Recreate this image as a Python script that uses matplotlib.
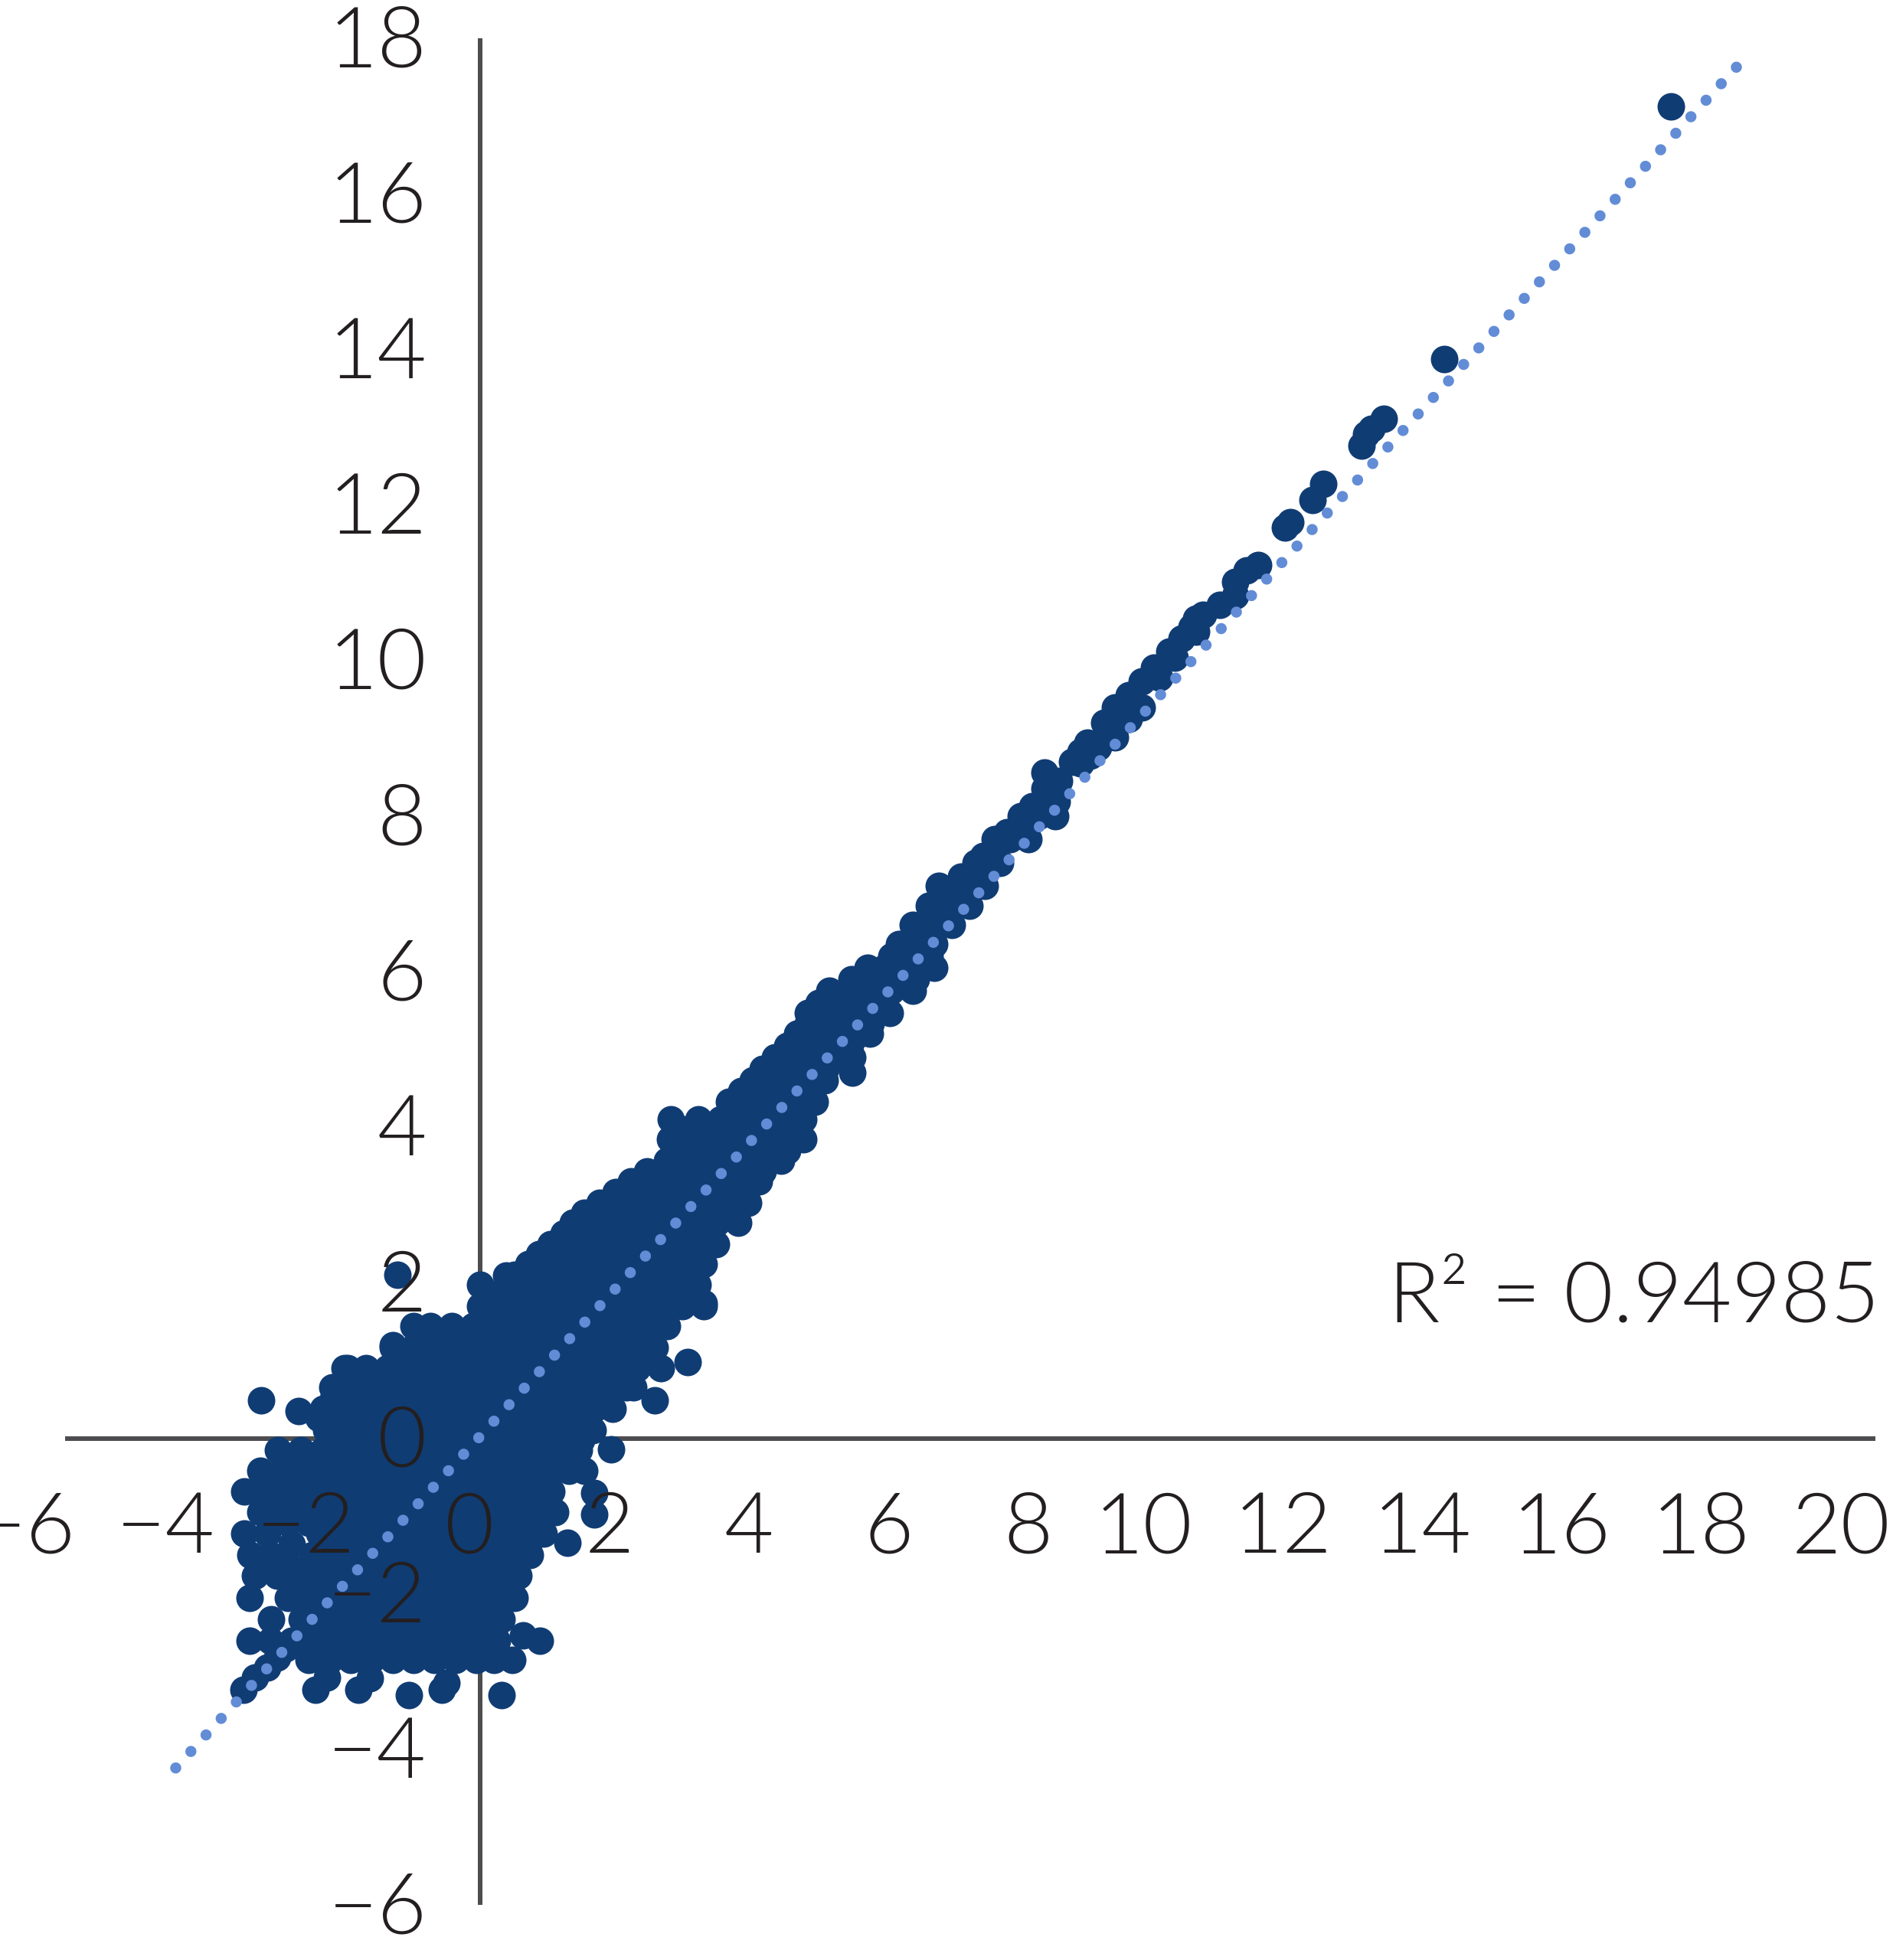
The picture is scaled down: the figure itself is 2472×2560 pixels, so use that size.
import matplotlib
matplotlib.use("Agg")
import matplotlib.pyplot as plt
from matplotlib import font_manager as fm
from matplotlib.transforms import ScaledTranslation

W, H, DPI = 2472, 2560, 100

# values
x_ticks = [-6, -4, -2, 0, 2, 4, 6, 8, 10, 12, 14, 16, 18, 20]
y_ticks = [-6, -4, -2, 0, 2, 4, 6, 8, 10, 12, 14, 16, 18]
trend_x = [-4.36, 18.02]
trend_y = [-4.24, 17.64]

# dense part of the cloud, one list of x per row
cloud_y = [-2.85, -2.6, -2.33, -2.05, -1.77, -1.5, -1.23, -0.95, -0.68, -0.42, -0.15, 0.1, 0.38, 0.65, 0.9,
           1.17, 1.44, 1.7, 1.97, 2.24, 2.5, 2.77, 3.03, 3.3, 3.57, 3.84, 4.1]
cloud_x = [
    [-2.45, -2.15, -1.85, -1.55, -1.25, -0.95, -0.65, -0.35, -0.05, 0.2, 0.46],
    [-3.3, -3.0, -2.7, -2.4, -2.1, -1.8, -1.5, -1.2, -0.9, -0.6, -0.3, 0.0, 0.25],
    [-2.99, -2.55, -2.25, -1.95, -1.65, -1.35, -1.05, -0.75, -0.45, -0.15, 0.15, 0.31],
    [-3.3, -2.75, -2.45, -2.15, -1.85, -1.55, -1.25, -0.95, -0.65, -0.35, -0.05, 0.25, 0.5],
    [-3.22, -2.9, -2.6, -2.3, -2.0, -1.7, -1.4, -1.1, -0.8, -0.5, -0.2, 0.1, 0.4, 0.55],
    [-3.29, -3.0, -2.4, -2.1, -1.8, -1.5, -1.2, -0.9, -0.6, -0.3, 0.0, 0.3, 0.6, 0.72],
    [-3.38, -3.05, -2.3, -2.0, -1.7, -1.4, -1.1, -0.8, -0.5, -0.2, 0.1, 0.4, 0.7, 0.91],
    [-3.15, -2.85, -2.55, -2.25, -1.95, -1.65, -1.35, -1.05, -0.75, -0.45, -0.15, 0.15, 0.45, 0.75, 1.08],
    [-3.38, -3.1, -2.8, -2.5, -2.2, -1.9, -1.6, -1.3, -1.0, -0.7, -0.4, -0.1, 0.2, 0.5, 0.8, 1.02],
    [-3.15, -2.85, -2.55, -2.25, -1.95, -1.65, -1.35, -1.05, -0.75, -0.45, -0.15, 0.15, 0.45, 0.75, 1.05, 1.28, 1.5],
    [-2.89, -2.56, -2.25, -1.95, -1.65, -1.35, -1.05, -0.75, -0.45, -0.15, 0.15, 0.45, 0.75, 1.05, 1.42],
    [-2.2, -1.9, -1.6, -1.3, -1.0, -0.7, -0.4, -0.1, 0.2, 0.5, 0.8, 1.1, 1.4, 1.62],
    [-2.25, -1.95, -1.65, -1.35, -1.05, -0.75, -0.45, -0.15, 0.15, 0.45, 0.75, 1.05, 1.35, 1.64, 1.9],
    [-2.12, -1.8, -1.5, -1.2, -0.9, -0.6, -0.3, 0.0, 0.3, 0.6, 0.9, 1.2, 1.5, 1.8, 2.1, 2.2],
    [-1.94, -1.63, -1.33, -1.05, -0.75, -0.45, -0.15, 0.15, 0.45, 0.75, 1.05, 1.35, 1.65, 1.95, 2.25, 2.59],
    [-1.25, -0.95, -0.65, -0.35, -0.05, 0.25, 0.55, 0.85, 1.15, 1.45, 1.75, 2.05, 2.35, 2.51],
    [-0.95, -0.71, -0.4, -0.1, 0.2, 0.5, 0.8, 1.1, 1.4, 1.7, 2.0, 2.3, 2.68],
    [0.0, 0.3, 0.6, 0.9, 1.2, 1.5, 1.8, 2.1, 2.4, 2.7, 2.9, 3.21],
    [0.0, 0.38, 0.6, 0.9, 1.2, 1.5, 1.8, 2.1, 2.4, 2.7, 3.0, 3.12],
    [0.7, 1.0, 1.3, 1.6, 1.9, 2.2, 2.5, 2.8, 3.0, 3.21],
    [1.01, 1.3, 1.6, 1.9, 2.2, 2.5, 2.8, 3.1, 3.38],
    [1.33, 1.6, 1.9, 2.2, 2.5, 2.8, 3.1, 3.4, 3.7],
    [1.72, 2.0, 2.3, 2.6, 2.9, 3.2, 3.5, 3.85],
    [2.17, 2.45, 2.75, 3.05, 3.35, 3.65, 4.0],
    [2.68, 2.95, 3.25, 3.55, 3.85, 4.32],
    [2.73, 3.0, 3.3, 3.6, 3.9, 4.2, 4.63],
    [2.74, 3.13, 3.45, 3.8, 4.1, 4.4, 4.63],
]

# more points between those rows
fill_y = [-2.72, -2.47, -2.19, -1.91, -1.63, -1.36, -1.09, -0.81, -0.55, -0.28, -0.02, 0.24, 0.51, 0.77, 1.03,
          1.3, 1.57, 1.83, 2.1, 2.37, 2.63, 2.9, 3.16, 3.43, 3.7, 3.97,
          4.46, 4.75, 5.05, 5.33, 5.6, 5.9, 6.2]
fill_x = [
    [-2.3, -2.0, -1.7, -1.4, -1.1, -0.8, -0.5, -0.2, 0.1],
    [-2.4, -2.1, -1.8, -1.5, -1.2, -0.9, -0.6, -0.3, 0.0, 0.2],
    [-2.4, -2.1, -1.8, -1.5, -1.2, -0.9, -0.6, -0.3, 0.0, 0.25],
    [-2.6, -2.3, -2.0, -1.7, -1.4, -1.1, -0.8, -0.5, -0.2, 0.1, 0.35],
    [-2.75, -2.25, -1.95, -1.65, -1.35, -1.05, -0.75, -0.45, -0.15, 0.15, 0.45],
    [-2.7, -2.25, -1.95, -1.65, -1.35, -1.05, -0.75, -0.45, -0.15, 0.15, 0.45, 0.7],
    [-2.75, -2.45, -2.15, -1.85, -1.55, -1.25, -0.95, -0.65, -0.35, -0.05, 0.25, 0.55, 0.8],
    [-3.0, -2.7, -2.4, -2.1, -1.8, -1.5, -1.2, -0.9, -0.6, -0.3, 0.0, 0.3, 0.6, 0.9],
    [-2.95, -2.65, -2.35, -2.05, -1.75, -1.45, -1.15, -0.85, -0.55, -0.25, 0.05, 0.35, 0.65, 0.95],
    [-2.7, -2.4, -2.1, -1.8, -1.5, -1.2, -0.9, -0.6, -0.3, 0.0, 0.3, 0.6, 0.9, 1.2],
    [-2.05, -1.75, -1.45, -1.15, -0.85, -0.55, -0.25, 0.05, 0.35, 0.65, 0.95, 1.25, 1.45],
    [-2.05, -1.75, -1.45, -1.15, -0.85, -0.55, -0.25, 0.05, 0.35, 0.65, 0.95, 1.25, 1.55],
    [-2.1, -1.8, -1.5, -1.2, -0.9, -0.6, -0.3, 0.0, 0.3, 0.6, 0.9, 1.2, 1.5, 1.8],
    [-1.65, -1.35, -1.05, -0.75, -0.45, -0.15, 0.15, 0.45, 0.75, 1.05, 1.35, 1.65, 1.95, 2.1],
    [-1.1, -0.8, -0.5, -0.2, 0.1, 0.4, 0.7, 1.0, 1.3, 1.6, 1.9, 2.2, 2.4],
    [-0.8, -0.5, -0.2, 0.1, 0.4, 0.7, 1.0, 1.3, 1.6, 1.9, 2.2, 2.4],
    [0.15, 0.45, 0.75, 1.05, 1.35, 1.65, 1.95, 2.25, 2.55],
    [0.15, 0.45, 0.75, 1.05, 1.35, 1.65, 1.95, 2.25, 2.55, 2.85, 3.0],
    [0.5, 0.8, 1.1, 1.4, 1.7, 2.0, 2.3, 2.6, 2.9, 3.0],
    [0.85, 1.15, 1.45, 1.75, 2.05, 2.35, 2.65, 2.95, 3.15],
    [1.2, 1.5, 1.8, 2.1, 2.4, 2.7, 3.0, 3.3],
    [1.5, 1.8, 2.1, 2.4, 2.7, 3.0, 3.3, 3.6],
    [1.95, 2.25, 2.55, 2.85, 3.15, 3.45, 3.75],
    [2.4, 2.7, 3.0, 3.3, 3.6, 3.9, 4.05],
    [2.85, 3.15, 3.45, 3.75, 4.05, 4.4],
    [2.9, 3.2, 3.5, 3.8, 4.1, 4.4],
    [3.75, 4.05, 4.35, 4.65],
    [4.05, 4.35, 4.65, 4.95],
    [4.4, 4.7, 5.0, 5.3],
    [4.7, 5.0, 5.3, 5.6],
    [4.85, 5.15, 5.45, 5.75],
    [5.4, 5.7, 6.0, 6.25],
    [5.9, 6.2, 6.45],
]

# narrowing band above the cloud
band_y = [4.33, 4.6, 4.9, 5.2, 5.47, 5.75, 6.05, 6.35, 6.6, 6.85, 7.1, 7.4, 7.7, 8.0]
band_x = [
    [3.57, 3.9, 4.2, 4.55, 4.8],
    [3.91, 4.2, 4.5, 4.75, 4.94],
    [4.23, 4.5, 4.8, 5.1, 5.34],
    [4.55, 4.85, 5.15, 5.45, 5.59],
    [4.7, 5.0, 5.3, 5.6, 5.87],
    [5.01, 5.3, 5.6, 5.9, 6.2],
    [5.56, 5.8, 6.1, 6.35, 6.51],
    [6.01, 6.25, 6.51],
    [6.2, 6.45, 6.76],
    [6.43, 6.7, 7.02],
    [6.58, 6.9, 7.24],
    [7.1, 7.3, 7.46],
    [7.38, 7.6, 7.86],
    [7.75, 8.0, 8.25],
]

# single points and the thin top end
loose_x = [-3.14, -2.6, -1.18, 2.98, 2.51, 1.88, 1.64, 1.64, 1.26, 0.86, 0.62, 0.31, -1.02, -0.54, -0.48,
           -1.74, -1.58, -2.36, -2.19, -3.39, -3.22, -3.05, -2.9, -2.78, -2.31, -1.89, -1.25, 0.38, 3.21, 2.9,
           5.34, 5.33, 6.9, 7.21, 7.55, 8.09, 8.09, 8.27, 7.92, 8.49, 8.61, 8.71, 8.61, 8.86, 8.95, 9.1, 9.1,
           9.49, 9.49, 9.74, 9.66, 9.88, 9.96, 10.06, 10.2, 10.27, 10.27, 10.36, 10.6, 10.83, 10.83, 10.99, 11.15,
           11.54, 11.61, 11.93, 12.09, 12.64, 12.7, 12.78, 12.95, 13.82, 17.07,
           8.3, 8.75, 9.3, 9.3]
loose_y = [0.49, 0.35, 2.1, 0.98, 0.49, -0.14, -0.7, -0.98, -1.34, -2.6, -2.53, -3.3, -3.3, -3.23, -3.15,
           -3.23, -3.09, -3.23, -3.08, -3.23, -3.08, -2.95, -2.82, -2.7, 0.26, 0.9, 1.2, 2.09, 1.74, 1.84,
           4.7, 5.9, 7.22, 7.49, 7.79, 8.56, 8.35, 8.19, 8.13, 8.7, 8.83, 8.94, 8.68, 8.88, 9.2, 9.4, 9.01,
           9.73, 9.4, 9.78, 9.91, 10.11, 10.04, 10.28, 10.43, 10.54, 10.37, 10.59, 10.72, 11.01, 10.83, 11.16, 11.23,
           11.71, 11.78, 12.06, 12.27, 12.76, 12.91, 12.98, 13.11, 13.88, 17.12,
           8.45, 8.78, 9.25, 9.55]

r2_label = "R\u00b2 = 0.94985"

DARK = "#103C74"
DOT = "#628CD6"
AXIS = "#4D4D4F"
INK = "#231F20"

# matplotlib's weight match lands on Lato Hairline, so take the Light file by name
light = [f.fname for f in fm.fontManager.ttflist if f.name == "Lato" and f.fname.endswith("Lato-Light.ttf")]
if light:
    font = fm.FontProperties(fname=light[0], size=80)
else:
    font = fm.FontProperties(family="Lato", size=80)

fig = plt.figure(figsize=(W / DPI, H / DPI), dpi=DPI)
ax = fig.add_axes([80 / W, (H - 2488) / H, (2449 - 80) / W, (2488 - 50) / H])
ax.set_xlim(-6, 20)
ax.set_ylim(-6, 18)
ax.patch.set_visible(False)

all_x, all_y = list(loose_x), list(loose_y)
for row_y, row_x in zip(cloud_y + fill_y + band_y, cloud_x + fill_x + band_x):
    all_x += row_x
    all_y += [row_y] * len(row_x)
ax.scatter(all_x, all_y, s=(36 * 72 / DPI) ** 2, color=DARK, linewidths=0, zorder=1, clip_on=False)

# dash period picked so a dot lands on the far end of the line
ax.plot(trend_x, trend_y, color=DOT, lw=14.5 * 72 / DPI, linestyle=(0, (0.01, 2.0085)),
        dash_capstyle="round", zorder=2, clip_on=False)

for side in ["top", "right"]:
    ax.spines[side].set_visible(False)
for side in ["left", "bottom"]:
    ax.spines[side].set_position("zero")
    ax.spines[side].set_color(AXIS)
    ax.spines[side].set_linewidth(6 * 72 / DPI)
    ax.spines[side].set_zorder(0.5)
    ax.spines[side].set_capstyle("butt")
ax.spines["bottom"].set_bounds(-5.95, 20)

ax.set_axisbelow(False)
ax.set_xticks(x_ticks, [str(v).replace("-", "\u2212") for v in x_ticks])
ax.set_yticks(y_ticks, [str(v).replace("-", "\u2212") for v in y_ticks])
ax.tick_params(length=0, pad=50, labelcolor=INK)
x_shift = ScaledTranslation(19 / DPI, 0, fig.dpi_scale_trans)
y_shift = ScaledTranslation(0, 3 / DPI, fig.dpi_scale_trans)
for lab in ax.get_xticklabels():
    lab.set_fontproperties(font)
    lab.set_ha("right")
    lab.set_transform(lab.get_transform() + x_shift)
for lab in ax.get_yticklabels():
    lab.set_fontproperties(font)
    lab.set_transform(lab.get_transform() + y_shift)

ax.text(20.06, 1.8, r2_label, ha="right", va="center", color=INK, fontproperties=font, zorder=3)

fig.savefig("out.png", dpi=DPI)
